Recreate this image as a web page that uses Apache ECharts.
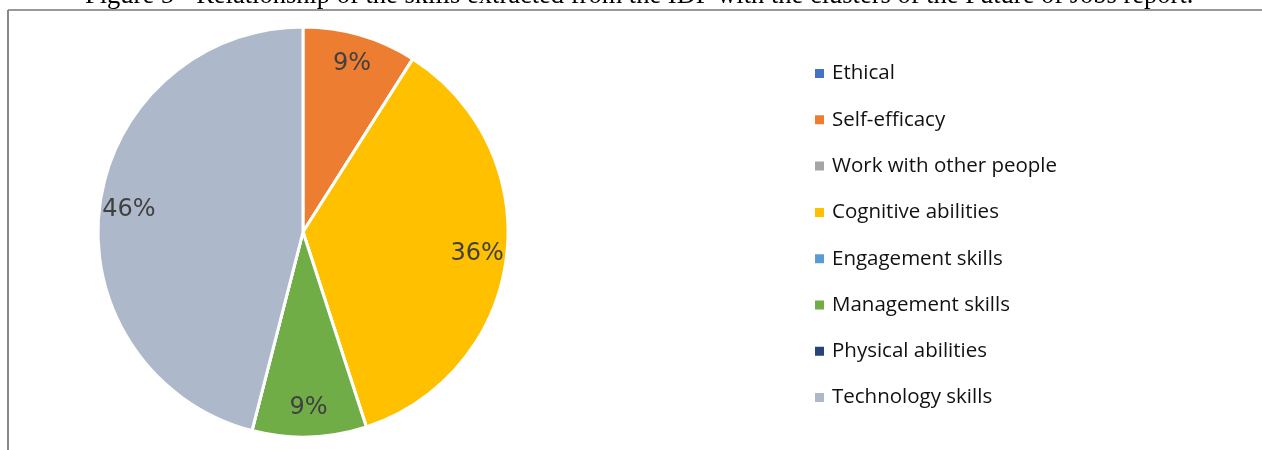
<!DOCTYPE html>
<html>
<head>
<meta charset="utf-8">
<script src="https://cdn.jsdelivr.net/npm/echarts@6/dist/echarts.min.js"></script>
<style>
html,body{margin:0;padding:0;background:#fff;}
#c{width:1262px;height:450px;}
</style>
</head>
<body>
<div id="c"></div>
<script>
const categories = ['Ethical','Self-efficacy','Work with other people','Cognitive abilities','Engagement skills','Management skills','Physical abilities','Technology skills'];
const values = [0, 9, 0, 36, 0, 9, 0, 46];
const colors = ['#4472C4','#ED7D31','#A5A5A5','#FFC000','#5B9BD5','#70AD47','#264478','#ADB9CA'];
const titleText = 'Figure 5 - Relationship of the skills extracted from the IDP with the clusters of the Future of Jobs report.';

const data = categories.map((n, i) => ({ name: n, value: values[i], itemStyle: { color: colors[i] } }));
const chart = echarts.init(document.getElementById('c'), null, { renderer: 'canvas' });
chart.setOption({
  animation: false,
  backgroundColor: '#fff',
  legend: {
    orient: 'vertical',
    left: 808,
    top: 56,
    itemWidth: 11,
    itemHeight: 11,
    itemGap: 21.3,
    icon: 'rect',
    data: categories,
    textStyle: { fontFamily: 'Open Sans', fontSize: 20.5, color: '#111', lineHeight: 22, padding: [3, 0, 0, 2] }
  },
  graphic: [
    { type: 'text', left: 85, top: -17, style: { text: titleText, font: '26.5px "Liberation Serif"', fill: '#000' } },
    { type: 'line', shape: { x1: 8, y1: 10, x2: 1262, y2: 10 }, style: { stroke: '#999', lineWidth: 2 } },
    { type: 'line', shape: { x1: 8, y1: 10, x2: 8, y2: 450 }, style: { stroke: '#888', lineWidth: 2 } }
  ],
  series: [
    {
      type: 'pie',
      center: [303, 232],
      radius: [0, 205],
      startAngle: 90,
      clockwise: true,
      label: { show: false },
      labelLine: { show: false },
      itemStyle: { borderColor: '#fff', borderWidth: 3 },
      emphasis: { disabled: true },
      data: data
    },
    {
      type: 'pie',
      center: [303, 232],
      radius: [140, 205],
      startAngle: 90,
      clockwise: true,
      silent: true,
      legendHoverLink: false,
      itemStyle: { color: 'transparent', borderWidth: 0 },
      label: {
        show: true,
        position: 'inside',
        formatter: p => p.value > 0 ? p.percent.toFixed(0) + '%' : '',
        fontFamily: 'DejaVu Sans',
        fontSize: 24,
        color: '#404040'
      },
      labelLine: { show: false },
      emphasis: { disabled: true },
      data: categories.map((n, i) => ({ name: n, value: values[i], itemStyle: { color: 'transparent' } }))
    }
  ]
});
</script>
</body>
</html>
